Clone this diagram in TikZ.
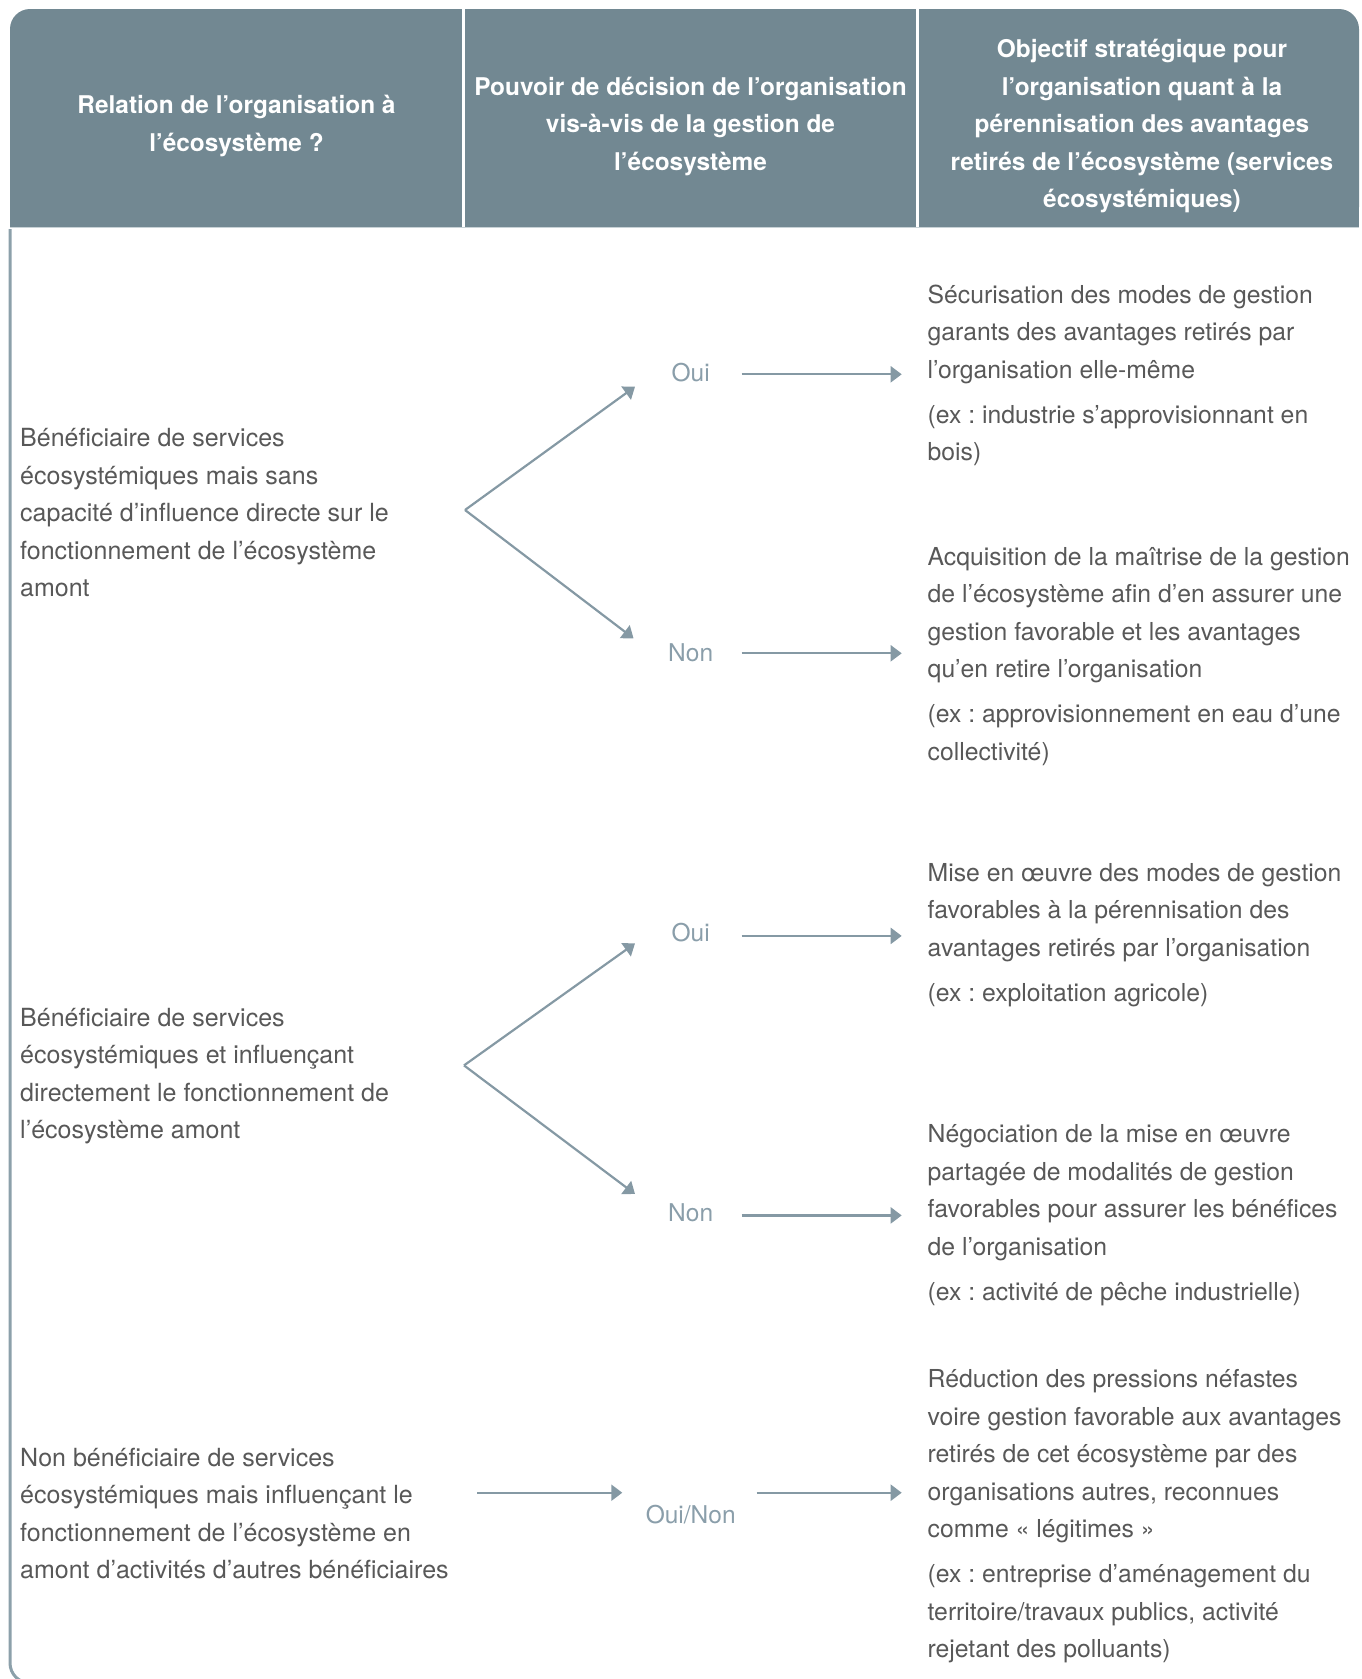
\documentclass[tikz,border=0pt]{standalone}
\usepackage{fontspec}
\setmainfont{TeX Gyre Heros}
\usetikzlibrary{arrows.meta}
\definecolor{hdr}{RGB}{114,136,146}
\definecolor{framec}{RGB}{140,160,170}
\definecolor{arrowc}{RGB}{133,153,164}
\definecolor{lblc}{RGB}{138,158,170}
\definecolor{txtc}{RGB}{88,88,88}
\definecolor{hdrline}{RGB}{200,210,214}
\frenchspacing
\tikzset{
  bodytext/.style={font=\fontsize{25}{37.5}\selectfont, text=txtc, align=left, anchor=north west, inner sep=0pt},
  righttext/.style={bodytext, font=\fontsize{24.75}{37.5}\selectfont},
  hdrtext/.style={font=\fontsize{24.4}{37.5}\selectfont\bfseries, text=white, align=center, anchor=center, inner sep=0pt},
  lbltext/.style={font=\fontsize{24.5}{37.5}\selectfont, text=lblc, anchor=center, inner sep=0pt},
  arr/.style={draw=arrowc, line width=2.2pt, -{Triangle[length=11pt,width=16pt]}}
}
\begin{document}
\begin{tikzpicture}[x=1pt,y=-1pt]
\useasboundingbox (0,0) rectangle (1362,1679);
\clip (0,0) rectangle (1362,1679);
% header
\fill[hdr, rounded corners=20pt] (10,9) rectangle (1359,227);
\fill[hdr] (10,150) rectangle (1359,227);
\draw[hdrline, line width=1.5pt] (10,227.5) -- (1359,227.5);
\draw[white, line width=3pt] (463.5,9) -- (463.5,227);
\draw[white, line width=3pt] (917,9) -- (917,227);
% frame
\draw[framec, line width=3pt, rounded corners=20pt] (10,229) -- (10,1683) -- (300,1683);
% header texts
\node[hdrtext] (H1) at (236.5,126) {Relation de l’organisation à\\l’écosystème ?};
\node[hdrtext] (H2) at (690.5,126) {Pouvoir de décision de l’organisation\\vis-à-vis de la gestion de\\l’écosystème};
\node[hdrtext] (H3) at (1142,126) {Objectif stratégique pour\\l’organisation quant à la\\pérennisation des avantages\\retirés de l’écosystème (services\\écosystémiques)};
% left texts
\node[bodytext] (L1) at (20,420.3) {\strut Bénéficiaire de services\\écosystémiques mais sans\\capacité d’influence directe sur le\\fonctionnement de l’écosystème\\amont};
\node[bodytext] (L2) at (20,999.6) {\strut Bénéficiaire de services\\écosystémiques et influençant\\directement le fonctionnement de\\l’écosystème amont};
\node[bodytext] (L3) at (20,1439.7) {\strut Non bénéficiaire de services\\écosystémiques mais influençant le\\fonctionnement de l’écosystème en\\amont d’activités d’autres bénéficiaires};
% labels
\node[lbltext] (Y1) at (690.7,372.6) {Oui};
\node[lbltext] (N1) at (690.7,653.2) {Non};
\node[lbltext] (Y2) at (690.7,932.7) {Oui};
\node[lbltext] (N2) at (690.7,1213.2) {Non};
\node[lbltext] (YN) at (690.7,1515) {Oui/Non};
% right texts
\node[righttext] (R1) at (927.5,276.8) {\strut Sécurisation des modes de gestion\\garants des avantages retirés par\\l’organisation elle-même\\[7.5pt](ex : industrie s’approvisionnant en\\bois)};
\node[righttext] (R2) at (927.5,539) {\strut Acquisition de la maîtrise de la gestion\\de l’écosystème afin d’en assurer une\\gestion favorable et les avantages\\qu’en retire l’organisation\\[7.5pt](ex : approvisionnement en eau d’une\\collectivité)};
\node[righttext] (R3) at (927.5,855) {\strut Mise en œuvre des modes de gestion\\favorables à la pérennisation des\\avantages retirés par l’organisation\\[7.5pt](ex : exploitation agricole)};
\node[righttext] (R4) at (927.5,1116.3) {\strut Négociation de la mise en œuvre\\partagée de modalités de gestion\\favorables pour assurer les bénéfices\\de l’organisation\\[7.5pt](ex : activité de pêche industrielle)};
\node[righttext] (R5) at (927.5,1361.5) {\strut Réduction des pressions néfastes\\voire gestion favorable aux avantages\\retirés de cet écosystème par des\\organisations autres, reconnues\\comme « légitimes »\\[7.5pt](ex : entreprise d’aménagement du\\territoire/travaux publics, activité\\rejetant des polluants)};
% connector coordinates
\coordinate (V1) at (465,510);
\coordinate (T1u) at (635,386.7);
\coordinate (T1d) at (633.5,638.3);
\coordinate (V2) at (464,1065.4);
\coordinate (T2u) at (635,943.4);
\coordinate (T2d) at (635,1194);
\coordinate (a1s) at (741.7,374.3); \coordinate (a1e) at (901.7,374.3);
\coordinate (a2s) at (741.7,653.3); \coordinate (a2e) at (901.7,653.3);
\coordinate (a3s) at (741.7,935.9); \coordinate (a3e) at (901.7,935.9);
\coordinate (a4s) at (741.7,1215.4); \coordinate (a4e) at (901.7,1215.4);
\coordinate (a5s) at (477.3,1492.7); \coordinate (a5e) at (622.3,1492.7);
\coordinate (a6s) at (756.7,1492.7); \coordinate (a6e) at (901.7,1492.7);
% connectors
\draw[arr] (V1) -- (T1u);
\draw[arr] (V1) -- (T1d);
\draw[arr] (V2) -- (T2u);
\draw[arr] (V2) -- (T2d);
\draw[arr] (a1s) -- (a1e);
\draw[arr] (a2s) -- (a2e);
\draw[arr] (a3s) -- (a3e);
\draw[arr] (a4s) -- (a4e);
\draw[arr] (a5s) -- (a5e);
\draw[arr] (a6s) -- (a6e);
\end{tikzpicture}
\end{document}
